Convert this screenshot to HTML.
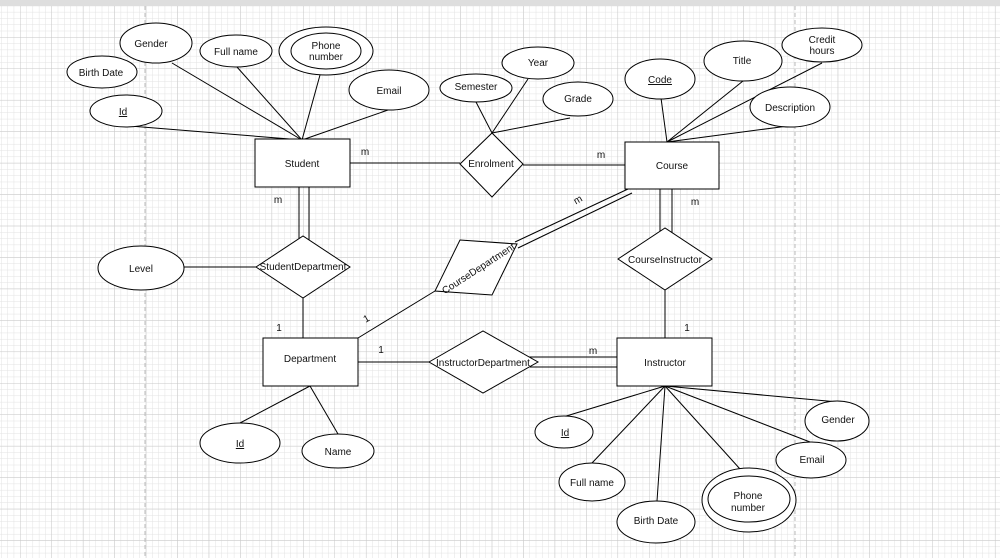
<!DOCTYPE html>
<html><head><meta charset="utf-8"><style>
html,body{margin:0;padding:0;background:#fff;}
svg{display:block;}
text{font-family:"Liberation Sans",sans-serif;font-size:10px;fill:#111;}
</style></head><body>
<svg width="1000" height="558" viewBox="0 0 1000 558" xmlns="http://www.w3.org/2000/svg">
<defs>
<pattern id="minor" x="20" y="5.6" width="6.29" height="6.29" patternUnits="userSpaceOnUse">
<path d="M0 0H6.29M0 0V6.29" stroke="#e2e2e2" stroke-width="1" fill="none"/>
</pattern>
<pattern id="major" x="20" y="5.6" width="31.45" height="31.45" patternUnits="userSpaceOnUse">
<path d="M0 0H31.45M0 0V31.45" stroke="#c8c8c8" stroke-width="1" fill="none"/>
</pattern>
</defs>
<rect width="1000" height="558" fill="#fff"/>
<rect width="1000" height="558" fill="url(#minor)"/>
<rect width="1000" height="558" fill="url(#major)"/>
<rect x="0" y="0" width="1000" height="6" fill="#dedede"/>
<line x1="145" y1="6" x2="145" y2="558" stroke="#bbb" stroke-dasharray="4,3"/>
<line x1="795" y1="6" x2="795" y2="558" stroke="#bbb" stroke-dasharray="4,3"/>

<g stroke="#000" stroke-width="1" fill="none">
<line x1="302" y1="140" x2="172" y2="63"/>
<line x1="302" y1="140" x2="237" y2="67"/>
<line x1="302" y1="140" x2="320" y2="75"/>
<line x1="302" y1="140" x2="388" y2="110"/>
<line x1="302" y1="140" x2="130" y2="126"/>
<line x1="350" y1="163" x2="460" y2="163"/>
<line x1="523" y1="165" x2="625" y2="165"/>
<line x1="492" y1="133" x2="476" y2="102"/>
<line x1="492" y1="133" x2="528" y2="79"/>
<line x1="492" y1="133" x2="570" y2="118"/>
<line x1="667" y1="142" x2="661" y2="98"/>
<line x1="667" y1="142" x2="743" y2="81"/>
<line x1="667" y1="142" x2="822" y2="63"/>
<line x1="667" y1="142" x2="788" y2="126"/>
<line x1="660" y1="189" x2="660" y2="233"/>
<line x1="672" y1="189" x2="672" y2="236"/>
<line x1="665" y1="290" x2="665" y2="338"/>
<line x1="299" y1="187" x2="299" y2="239"/>
<line x1="309" y1="187" x2="309" y2="242"/>
<line x1="184" y1="267" x2="256" y2="267"/>
<line x1="303" y1="298" x2="303" y2="338"/>
<line x1="515" y1="242" x2="628" y2="189"/>
<line x1="518" y1="248" x2="632" y2="193"/>
<line x1="435" y1="291" x2="358" y2="338"/>
<line x1="358" y1="362" x2="429" y2="362"/>
<line x1="528" y1="357" x2="617" y2="357"/>
<line x1="530" y1="367" x2="617" y2="367"/>
<line x1="310" y1="386" x2="240" y2="423"/>
<line x1="310" y1="386" x2="338" y2="434"/>
<line x1="665" y1="386" x2="563" y2="417"/>
<line x1="665" y1="386" x2="592" y2="463"/>
<line x1="665" y1="386" x2="657" y2="501"/>
<line x1="665" y1="386" x2="740" y2="469"/>
<line x1="665" y1="386" x2="810" y2="442"/>
<line x1="665" y1="386" x2="838" y2="402"/>
</g>

<g stroke="#000" stroke-width="1" fill="#fff">
<rect x="255" y="139" width="95" height="48"/>
<rect x="625" y="142" width="94" height="47"/>
<rect x="263" y="338" width="95" height="48"/>
<rect x="617" y="338" width="95" height="48"/>

<polygon points="460,164 492,133 523,164 492,197"/>
<polygon points="256,267 303,236 350,267 303,298"/>
<polygon points="618,259 665,228 712,259 665,290"/>
<polygon points="429,362 483,331 538,362 483,393"/>
<polygon points="460,240 517,244 492,295 435,291"/>

<ellipse cx="156" cy="43" rx="36" ry="20"/>
<ellipse cx="102" cy="72" rx="35" ry="16"/>
<ellipse cx="236" cy="51" rx="36" ry="16"/>
<ellipse cx="326" cy="51" rx="47" ry="24"/>
<ellipse cx="326" cy="51" rx="35" ry="18"/>
<ellipse cx="389" cy="90" rx="40" ry="20"/>
<ellipse cx="126" cy="111" rx="36" ry="16"/>
<ellipse cx="476" cy="88" rx="36" ry="14"/>
<ellipse cx="538" cy="63" rx="36" ry="16"/>
<ellipse cx="578" cy="99" rx="35" ry="17"/>
<ellipse cx="660" cy="79" rx="35" ry="20"/>
<ellipse cx="743" cy="61" rx="39" ry="20"/>
<ellipse cx="822" cy="45" rx="40" ry="17"/>
<ellipse cx="790" cy="107" rx="40" ry="20"/>
<ellipse cx="141" cy="268" rx="43" ry="22"/>
<ellipse cx="240" cy="443" rx="40" ry="20"/>
<ellipse cx="338" cy="451" rx="36" ry="17"/>
<ellipse cx="564" cy="432" rx="29" ry="16"/>
<ellipse cx="592" cy="482" rx="33" ry="19"/>
<ellipse cx="656" cy="522" rx="39" ry="21"/>
<ellipse cx="749" cy="500" rx="47" ry="32"/>
<ellipse cx="749" cy="499" rx="41" ry="23"/>
<ellipse cx="811" cy="460" rx="35" ry="18"/>
<ellipse cx="837" cy="421" rx="32" ry="20"/>
</g>

<g text-anchor="middle">
<text x="302" y="167">Student</text>
<text x="672" y="169">Course</text>
<text x="310" y="362">Department</text>
<text x="665" y="366">Instructor</text>
<text x="491" y="167">Enrolment</text>
<text x="303" y="270">StudentDepartment</text>
<text x="665" y="263">CourseInstructor</text>
<text x="483" y="366">InstructorDepartment</text>
<text x="478" y="272" transform="rotate(-33 478 268)">CourseDepartment</text>

<text x="151" y="47">Gender</text>
<text x="101" y="76">Birth Date</text>
<text x="236" y="55">Full name</text>
<text x="326" y="49">Phone</text>
<text x="326" y="60">number</text>
<text x="389" y="94">Email</text>
<text x="123" y="115" text-decoration="underline">Id</text>
<text x="476" y="90">Semester</text>
<text x="538" y="66">Year</text>
<text x="578" y="102">Grade</text>
<text x="660" y="83" text-decoration="underline">Code</text>
<text x="742" y="64">Title</text>
<text x="822" y="43">Credit</text>
<text x="822" y="54">hours</text>
<text x="790" y="111">Description</text>
<text x="141" y="272">Level</text>
<text x="240" y="447" text-decoration="underline">Id</text>
<text x="338" y="455">Name</text>
<text x="565" y="436" text-decoration="underline">Id</text>
<text x="592" y="486">Full name</text>
<text x="656" y="524">Birth Date</text>
<text x="748" y="499">Phone</text>
<text x="748" y="511">number</text>
<text x="812" y="463">Email</text>
<text x="838" y="423">Gender</text>

<text x="365" y="155">m</text>
<text x="601" y="158">m</text>
<text x="278" y="203">m</text>
<text x="695" y="205">m</text>
<text x="578" y="203" transform="rotate(-30 578 200)">m</text>
<text x="279" y="331">1</text>
<text x="687" y="331">1</text>
<text x="381" y="353">1</text>
<text x="593" y="354">m</text>
<text x="366" y="322" transform="rotate(-30 366 318)">1</text>
</g>
</svg>
</body></html>
